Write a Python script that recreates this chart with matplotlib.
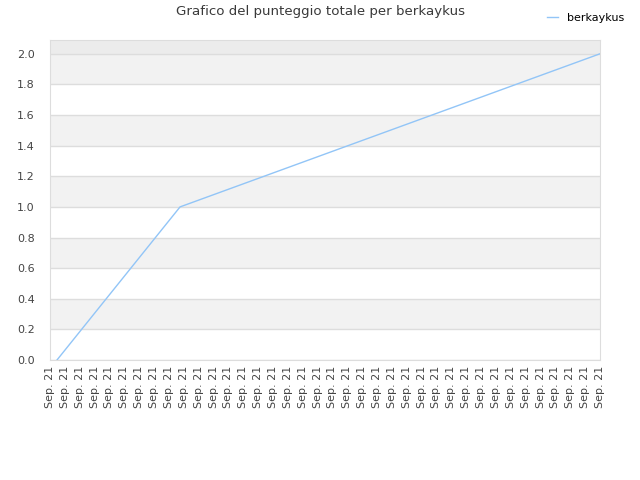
import numpy as np
import matplotlib
matplotlib.use('Agg')
import matplotlib.pyplot as plt


###############################################################################
title = 'Grafico del punteggio totale per berkaykus'
series_name = 'berkaykus'
tick_labels = ['Sep. 21'] * 38
x_vals = [0.47, 8.75, 37]
y_vals = [0.0, 1.0, 2.0]
y_ticks = [0.0, 0.2, 0.4, 0.6, 0.8, 1.0, 1.2, 1.4, 1.6, 1.8, 2.0]
line_color = '#92c5f7'
###############################################################################

fig = plt.figure(figsize=(6.4, 4.8), dpi=100)
ax = fig.add_axes([50/640, 0.25, 550/640, 320/480])

ymax = 2.09
ax.set_xlim(0, len(tick_labels) - 1)
ax.set_ylim(0, ymax)

# alternating bands
for i in range(len(y_ticks) - 1):
    if i % 2 == 1:
        ax.axhspan(y_ticks[i], y_ticks[i + 1], color='#f2f2f2', zorder=0, lw=0)
ax.axhspan(y_ticks[-1], ymax, color='#ececec', zorder=0, lw=0)

ax.plot(x_vals, y_vals, color=line_color, linewidth=1, label=series_name, zorder=3)

ax.set_yticks(y_ticks)
ax.set_yticklabels(['%.1f' % v for v in y_ticks])
ax.set_xticks(range(len(tick_labels)))
ax.set_xticklabels(tick_labels, rotation=90)

ax.grid(axis='y', color='#dddddd', linewidth=1)
ax.set_axisbelow(True)
ax.tick_params(axis='both', length=0, labelsize=8, labelcolor='#444444')
ax.tick_params(axis='x', pad=4)
ax.tick_params(axis='y', pad=11)
for s in ax.spines.values():
    s.set_color('#dddddd')

fig.text(0.5, 1 - 12/480, title, ha='center', va='center', fontsize=9.6, color='#3a3a3a')
fig.legend(loc='upper right', bbox_to_anchor=(634/640, 1 - 3/480), frameon=False,
           fontsize=8, handlelength=1.0, handletextpad=0.8)

plt.savefig('out.png', dpi=100)
plt.close()
